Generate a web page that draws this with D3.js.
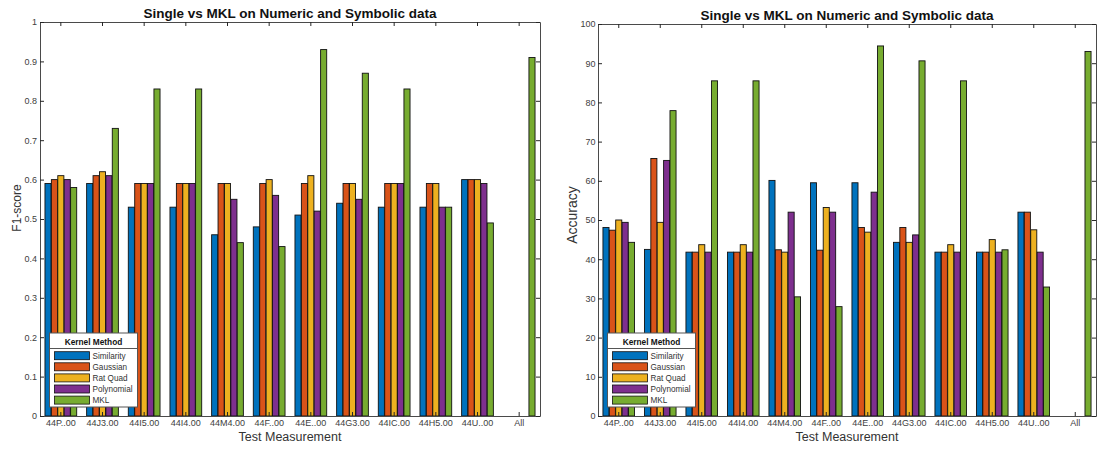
<!DOCTYPE html>
<html>
<head>
<meta charset="utf-8">
<script src="https://cdn.jsdelivr.net/npm/d3@7"></script>
<style>
  body { margin: 0; background: #fff; }
  svg { display: block; font-family: "Liberation Sans", Arial, Helvetica, sans-serif; }
  .tick text { fill: #404040; }
</style>
</head>
<body>
<svg id="chart" width="1100" height="450"></svg>
<script>
const categories = ["44P..00", "44J3.00", "44I5.00", "44I4.00", "44M4.00", "44F..00",
  "44E..00", "44G3.00", "44IC.00", "44H5.00", "44U..00", "All"];
const methods = ["Similarity", "Gaussian", "Rat Quad", "Polynomial", "MKL"];
const colors = ["#0072BD", "#D95319", "#EDB120", "#7E2F8E", "#77AC30"];

// F1-score per method (All only has MKL)
const f1Similarity = [0.59, 0.59, 0.53, 0.53, 0.46, 0.48, 0.51, 0.54, 0.53, 0.53, 0.60, null];
const f1Gaussian   = [0.60, 0.61, 0.59, 0.59, 0.59, 0.59, 0.59, 0.59, 0.59, 0.59, 0.60, null];
const f1RatQuad    = [0.61, 0.62, 0.59, 0.59, 0.59, 0.60, 0.61, 0.59, 0.59, 0.59, 0.60, null];
const f1Polynomial = [0.60, 0.61, 0.59, 0.59, 0.55, 0.56, 0.52, 0.55, 0.59, 0.53, 0.59, null];
const f1MKL        = [0.58, 0.73, 0.83, 0.83, 0.44, 0.43, 0.93, 0.87, 0.83, 0.53, 0.49, 0.91];

// Accuracy per method
const accSimilarity = [48.1, 42.5, 41.8, 41.8, 60.1, 59.5, 59.5, 44.3, 41.8, 41.8, 52.0, null];
const accGaussian   = [47.4, 65.7, 41.8, 41.8, 42.4, 42.3, 48.1, 48.1, 41.8, 41.8, 52.0, null];
const accRatQuad    = [50.0, 49.4, 43.7, 43.7, 41.8, 53.2, 46.9, 44.3, 43.7, 45.0, 47.5, null];
const accPolynomial = [49.4, 65.2, 41.8, 41.8, 52.0, 52.0, 57.1, 46.2, 41.8, 41.8, 41.8, null];
const accMKL        = [44.3, 77.9, 85.5, 85.5, 30.4, 27.9, 94.4, 90.6, 85.5, 42.4, 32.9, 93.0];

const f1Ticks = [0, 0.1, 0.2, 0.3, 0.4, 0.5, 0.6, 0.7, 0.8, 0.9, 1];
const accTicks = [0, 10, 20, 30, 40, 50, 60, 70, 80, 90, 100];

const title = "Single vs MKL on Numeric and Symbolic data";
const xTitle = "Test Measurement";

const svg = d3.select("#chart");

function drawPanel(opt) {
  const g = svg.append("g");
  const x = d3.scaleBand().domain(categories).range([opt.left, opt.right]);
  const y = d3.scaleLinear().domain([0, opt.max]).range([opt.bottom, opt.top]);
  const groupW = x.bandwidth() * 5 / 6.5;
  const xs = d3.scaleBand().domain(methods).range([0, groupW]);
  const barW = xs.bandwidth() * 0.95;

  const rows = [];
  opt.series.forEach((vals, si) => {
    vals.forEach((v, ci) => {
      if (v != null) rows.push({ cat: categories[ci], method: methods[si], si, v });
    });
  });

  // Bars
  g.append("g")
    .selectAll("rect")
    .data(rows)
    .join("rect")
    .attr("x", d => x(d.cat) + (x.bandwidth() - groupW) / 2 + xs(d.method) + (xs.bandwidth() - barW) / 2)
    .attr("y", d => y(d.v))
    .attr("width", barW)
    .attr("height", d => y(0) - y(d.v))
    .attr("fill", d => colors[d.si])
    .attr("stroke", "#111")
    .attr("stroke-width", 0.9);

  // Axes (ticks point inward, box on)
  const styleAxis = sel => {
    sel.select(".domain").attr("stroke", "#4a4a4a").attr("stroke-width", 1);
    sel.selectAll(".tick line").attr("stroke", "#262626");
    sel.selectAll(".tick text").attr("font-size", 9).attr("fill", "#404040");
  };
  g.append("g")
    .attr("transform", `translate(0,${opt.bottom})`)
    .call(d3.axisBottom(x).tickSizeInner(-4).tickSizeOuter(0).tickPadding(4))
    .call(styleAxis);
  g.append("g")
    .attr("transform", `translate(0,${opt.top})`)
    .call(d3.axisTop(x).tickSizeInner(-4).tickSizeOuter(0).tickFormat(""))
    .call(styleAxis);
  g.append("g")
    .attr("transform", `translate(${opt.left},0)`)
    .call(d3.axisLeft(y).tickValues(opt.ticks).tickSizeInner(-4).tickSizeOuter(0)
      .tickPadding(opt.yPad).tickFormat(d3.format("")))
    .call(styleAxis);
  g.append("g")
    .attr("transform", `translate(${opt.right},0)`)
    .call(d3.axisRight(y).tickValues(opt.ticks).tickSizeInner(-4).tickSizeOuter(0).tickFormat(""))
    .call(styleAxis);

  // Titles
  const cx = (opt.left + opt.right) / 2;
  g.append("text")
    .attr("x", cx).attr("y", opt.top - 4)
    .attr("text-anchor", "middle")
    .attr("font-size", 13.5).attr("font-weight", "bold").attr("fill", "#111")
    .text(title);
  g.append("text")
    .attr("x", cx).attr("y", 441)
    .attr("text-anchor", "middle")
    .attr("font-size", 12.5).attr("fill", "#333")
    .text(xTitle);
  g.append("text")
    .attr("transform", `translate(${opt.yLabelX},${opt.yLabelY}) rotate(-90)`)
    .attr("text-anchor", "middle")
    .attr("font-size", opt.yLabelSize).attr("fill", "#333")
    .text(opt.yLabel);

  // Legend
  const lg = g.append("g").attr("transform", `translate(${opt.left + 9.5},333)`);
  const lw = 88, lh = 74;
  lg.append("rect")
    .attr("width", lw).attr("height", lh)
    .attr("fill", "#fff").attr("stroke", "#555").attr("stroke-width", 1);
  lg.append("text")
    .attr("x", lw / 2).attr("y", 11.5)
    .attr("text-anchor", "middle")
    .attr("font-size", 8.3).attr("font-weight", "bold").attr("fill", "#111")
    .text("Kernel Method");
  lg.append("line")
    .attr("x1", 0).attr("x2", lw).attr("y1", 15.5).attr("y2", 15.5)
    .attr("stroke", "#555");
  const items = lg.selectAll("g.item")
    .data(methods)
    .join("g")
    .attr("class", "item")
    .attr("transform", (d, i) => `translate(0,${22.7 + i * 11.1})`);
  items.append("rect")
    .attr("x", 5).attr("y", -4)
    .attr("width", 35).attr("height", 8)
    .attr("fill", (d, i) => colors[i])
    .attr("stroke", "#111").attr("stroke-width", 0.8);
  items.append("text")
    .attr("x", 43).attr("y", 3)
    .attr("font-size", 8.2).attr("fill", "#333")
    .text(d => d);
}

drawPanel({
  left: 40, right: 540, top: 22, bottom: 416, max: 1,
  ticks: f1Ticks, yPad: 3,
  series: [f1Similarity, f1Gaussian, f1RatQuad, f1Polynomial, f1MKL],
  yLabel: "F1-score", yLabelX: 21, yLabelY: 208, yLabelSize: 12
});

drawPanel({
  left: 598, right: 1096, top: 24, bottom: 416, max: 100,
  ticks: accTicks, yPad: 2.5,
  series: [accSimilarity, accGaussian, accRatQuad, accPolynomial, accMKL],
  yLabel: "Accuracy", yLabelX: 577, yLabelY: 215, yLabelSize: 14
});
</script>
</body>
</html>
